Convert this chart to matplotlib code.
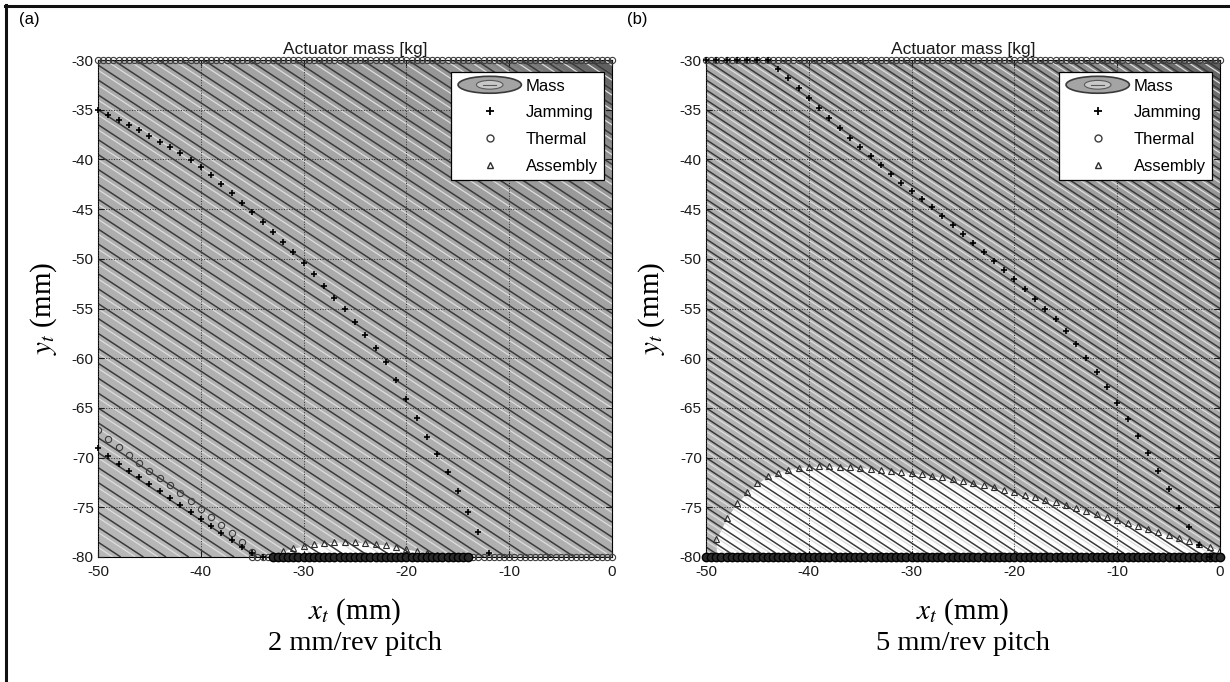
import numpy as np
import matplotlib.pyplot as plt
from matplotlib.colors import LinearSegmentedColormap, Normalize
from matplotlib.lines import Line2D
from matplotlib.patches import Ellipse
from matplotlib.legend_handler import HandlerBase

plt.rcParams['font.family'] = ['Liberation Sans', 'DejaVu Sans']
plt.rcParams['mathtext.fontset'] = 'stix'
plt.rcParams['axes.unicode_minus'] = False

# coarse table of actuator mass [kg] over the design space
grid_x = [-50, -40, -30, -20, -10, 0]
grid_y = [-30, -40, -50, -60, -70, -80]
mass_a = [[0.64, 0.572, 0.504, 0.436, 0.368, 0.30],
          [0.74, 0.672, 0.604, 0.536, 0.468, 0.40],
          [0.84, 0.772, 0.704, 0.636, 0.568, 0.50],
          [0.94, 0.872, 0.804, 0.736, 0.668, 0.60],
          [1.04, 0.972, 0.904, 0.836, 0.768, 0.70],
          [1.14, 1.072, 1.004, 0.936, 0.868, 0.80]]
mass_b = [[0.96, 0.858, 0.756, 0.654, 0.552, 0.45],
          [1.11, 1.008, 0.906, 0.804, 0.702, 0.60],
          [1.26, 1.158, 1.056, 0.954, 0.852, 0.75],
          [1.41, 1.308, 1.206, 1.104, 1.002, 0.90],
          [1.56, 1.458, 1.356, 1.254, 1.152, 1.05],
          [1.71, 1.608, 1.506, 1.404, 1.302, 1.20]]

# (a) 2 mm/rev pitch constraint boundaries
jam_a_x = list(range(-50, -11))
jam_a_y = [-35.0, -35.5, -36.0, -36.5, -37.0, -37.6, -38.2, -38.8, -39.4, -40.1,
           -40.8, -41.6, -42.5, -43.4, -44.4, -45.3, -46.3, -47.3, -48.3, -49.3,
           -50.4, -51.5, -52.7, -53.9, -55.1, -56.4, -57.7, -59.0, -60.4, -62.2,
           -64.1, -66.0, -67.9, -69.6, -71.4, -73.4, -75.5, -77.5, -79.6]
jam2_a_x = list(range(-50, -33))
jam2_a_y = [-69.0, -69.8, -70.6, -71.3, -72.0, -72.7, -73.4, -74.1, -74.8,
            -75.5, -76.2, -76.9, -77.6, -78.3, -79.0, -79.6, -80.0]
therm_a_x = list(range(-50, -34))
therm_a_y = [-67.2, -68.1, -68.9, -69.7, -70.5, -71.3, -72.1, -72.8,
             -73.6, -74.4, -75.2, -76.0, -76.8, -77.6, -78.5, -79.5]
asm_a_x = list(range(-33, -13))
asm_a_y = [-79.8, -79.4, -79.1, -78.9, -78.7, -78.6, -78.5, -78.5, -78.5, -78.6,
           -78.7, -78.8, -79.0, -79.2, -79.4, -79.6, -79.8, -80.0, -80.0, -80.0]
therm_top_a = [(-50, 0)]
therm_bot_light_a = [(-35, -33), (-14, 0)]
therm_bot_dark_a = [(-33, -14)]

# (b) 5 mm/rev pitch constraint boundaries
jam_b_x = list(range(-50, 0))
jam_b_y = [-30.0, -30.0, -30.0, -30.0, -30.0, -30.0, -30.0,
           -30.9, -31.8, -32.8, -33.8, -34.8, -35.8, -36.8, -37.8, -38.8,
           -39.7, -40.6, -41.5, -42.4, -43.2, -44.0, -44.8, -45.7, -46.6,
           -47.5, -48.4, -49.3, -50.2, -51.1, -52.0, -53.0, -54.0, -55.0,
           -56.1, -57.3, -58.6, -60.0, -61.4, -62.9, -64.5, -66.1, -67.8,
           -69.5, -71.3, -73.2, -75.1, -77.0, -78.8, -80.0]
asm_b_x = list(range(-49, 1))
asm_b_y = [-78.2, -76.1, -74.6, -73.5, -72.6, -71.9, -71.5, -71.2, -71.0, -70.9,
           -70.85, -70.85, -70.9, -70.95, -71.0, -71.1, -71.2, -71.3, -71.4, -71.55,
           -71.7, -71.85, -72.0, -72.2, -72.4, -72.6, -72.8, -73.0, -73.25, -73.5,
           -73.75, -74.0, -74.25, -74.5, -74.8, -75.1, -75.4, -75.7, -76.0, -76.3,
           -76.6, -76.9, -77.2, -77.5, -77.8, -78.1, -78.4, -78.7, -79.0, -79.3]
therm_top_b = [(-50, 0)]
therm_bot_light_b = []
therm_bot_dark_b = [(-50, 0)]

edge_step = 0.5
line_step = 0.015


class MassHandler(HandlerBase):
    def create_artists(self, legend, orig_handle, xdescent, ydescent,
                       width, height, fontsize, trans):
        cx, cy = width / 2 - xdescent, height / 2 - ydescent
        outer = Ellipse((cx, cy), width, height * 1.45, fc='#a4a4a4',
                        ec='#3a3a3a', lw=1.2, transform=trans)
        inner = Ellipse((cx, cy), width * 0.42, height * 0.75, fc='#c8c8c8',
                        ec='#5a5a5a', lw=0.8, transform=trans)
        dash = Line2D([cx - width * 0.1, cx + width * 0.1], [cy, cy],
                      color='#5a5a5a', lw=0.8, transform=trans)
        return [outer, inner, dash]


cmap = LinearSegmentedColormap.from_list(
    'mass', [(0, '#5c5c5c'), (0.12, '#939393'), (0.35, '#a8a8a8'), (1, '#b8b8b8')])


def edge_row(ax, spans, y, **kw):
    for lo, hi in spans:
        xs = np.arange(lo, hi + edge_step / 2, edge_step)
        ax.plot(xs, np.full(len(xs), y), ls='none', clip_on=False, zorder=6, **kw)


def draw_panel(ax, mass, jams, therm, asm, tops, bot_light, bot_dark, pitch, tag):
    X, Y = np.meshgrid(grid_x, grid_y)
    M = np.array(mass)
    lo, hi = M.min(), M.max()
    norm = Normalize(lo, hi)
    ax.contourf(X, Y, M, levels=np.linspace(lo, hi, 60), cmap=cmap, norm=norm, zorder=0)

    # region violating the assembly limit is left white
    ax.fill_between(asm[0], asm[1], -80, color='white', lw=0, zorder=1)

    levels = np.arange(lo, hi, line_step)
    ax.contour(X, Y, M, levels=levels + line_step * 0.35, colors='#dedede',
               linewidths=0.9, zorder=2)
    ax.contour(X, Y, M, levels=levels, colors='#3a3a3a', linewidths=1.1, zorder=2)

    circ = dict(marker='o', ms=4.5, mfc='none', mec='#3c3c3c', mew=0.8)
    edge_row(ax, tops, -30, **circ)
    edge_row(ax, bot_light, -80, **circ)
    edge_row(ax, bot_dark, -80, marker='o', ms=6, mfc='#2a2a2a', mec='black', mew=1.0)

    if therm is not None:
        ax.plot(therm[0], therm[1], ls='none', zorder=5, **circ)
    for jx, jy in jams:
        ax.plot(jx, jy, ls='none', marker='+', ms=5, mec='black', mew=1.2,
                clip_on=False, zorder=7)
    ax.plot(asm[0], asm[1], ls='none', marker='^', ms=3.8, mfc='none',
            mec='#2c2c2c', mew=0.8, zorder=5)

    ax.set_xlim(-50, 0)
    ax.set_ylim(-80, -30)
    ax.set_xticks(range(-50, 1, 10))
    ax.set_yticks(range(-80, -29, 5))
    ax.set_axisbelow(False)
    ax.grid(True, ls=':', color='#2e2e2e', lw=0.7)
    ax.tick_params(direction='in', length=4, top=True, right=True,
                   labelsize=11, colors='#1a1a1a')
    ax.tick_params(axis='x', pad=6)
    ax.tick_params(axis='y', pad=3)
    for s in ax.spines.values():
        s.set_linewidth(0.8)
    ax.set_title('Actuator mass [kg]', fontsize=12.5, pad=4, color='#1a1a1a')

    mass_proxy = Ellipse((0, 0), 1, 1)
    handles = [mass_proxy,
               Line2D([], [], ls='none', marker='+', ms=6, mec='black', mew=1.3),
               Line2D([], [], ls='none', marker='o', ms=5, mfc='none', mec='#3c3c3c', mew=1.0),
               Line2D([], [], ls='none', marker='^', ms=4.5, mfc='none', mec='#2c2c2c', mew=1.0)]
    leg = ax.legend(handles, ['Mass', 'Jamming', 'Thermal', 'Assembly'],
                    handler_map={mass_proxy: MassHandler()},
                    loc='upper right', bbox_to_anchor=(0.985, 0.976),
                    borderaxespad=0, fontsize=12, labelspacing=0.7,
                    borderpad=0.4, handlelength=3.8, handletextpad=0.25,
                    fancybox=False, framealpha=1, edgecolor='black')
    leg.get_frame().set_linewidth(0.9)
    leg.set_zorder(10)

    pos = ax.get_position()
    cx = pos.x0 + pos.width / 2
    fig.text(cx, 0.103, '$x_t$ (mm)', ha='center', va='center', fontsize=21,
             family='Liberation Serif')
    fig.text(cx, 0.057, pitch, ha='center', va='center', fontsize=20.5,
             family='Liberation Serif')
    fig.text(pos.x0 - 0.044, pos.y0 + pos.height / 2, '$y_t$ (mm)', rotation=90,
             ha='center', va='center', fontsize=21, family='Liberation Serif')
    fig.text(pos.x0 - 0.064, 0.972, tag, ha='left', va='center', fontsize=12)


fig = plt.figure(figsize=(12.3, 6.82), dpi=100)
ax_a = fig.add_axes([0.0797, 0.1833, 0.4179, 0.7287])
ax_b = fig.add_axes([0.5740, 0.1833, 0.4179, 0.7287])

draw_panel(ax_a, mass_a, [(jam_a_x, jam_a_y), (jam2_a_x, jam2_a_y)],
           (therm_a_x, therm_a_y), (asm_a_x, asm_a_y),
           therm_top_a, therm_bot_light_a, therm_bot_dark_a, '2 mm/rev pitch', '(a)')
draw_panel(ax_b, mass_b, [(jam_b_x, jam_b_y)], None, (asm_b_x, asm_b_y),
           therm_top_b, therm_bot_light_b, therm_bot_dark_b, '5 mm/rev pitch', '(b)')

# outer frame (top and left edges visible in the reference crop)
fig.add_artist(Line2D([0.004, 1.0], [0.991, 0.991], color='#111111', lw=2.2,
                      transform=fig.transFigure))
fig.add_artist(Line2D([0.005, 0.005], [0.0, 0.992], color='#111111', lw=2.2,
                      transform=fig.transFigure))

fig.savefig('out.png', dpi=100)
